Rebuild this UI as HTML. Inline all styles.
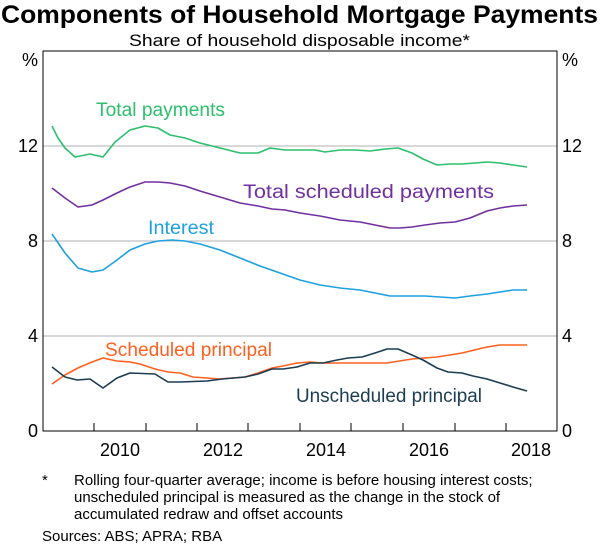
<!DOCTYPE html>
<html><head><meta charset="utf-8"><style>
body{margin:0;background:#fff;}
svg{display:block;font-family:"Liberation Sans",Arial,sans-serif;}
</style></head><body>
<svg width="600" height="546" viewBox="0 0 600 546" xmlns="http://www.w3.org/2000/svg">
<text x="1" y="23" font-size="25" font-weight="bold" fill="#000" textLength="597" lengthAdjust="spacingAndGlyphs">Components of Household Mortgage Payments</text>
<text x="129" y="46" font-size="17" fill="#000" textLength="341" lengthAdjust="spacingAndGlyphs">Share of household disposable income*</text>
<g stroke="#b0b0b0" stroke-width="1">
<line x1="43" y1="146" x2="557" y2="146"/><line x1="43" y1="241" x2="557" y2="241"/><line x1="43" y1="336" x2="557" y2="336"/>
</g>
<rect x="43" y="51" width="514" height="380" fill="none" stroke="#000" stroke-width="1"/>
<g stroke="#000" stroke-width="1">
<line x1="94" y1="431" x2="94" y2="423"/><line x1="146" y1="431" x2="146" y2="423"/><line x1="197" y1="431" x2="197" y2="423"/><line x1="248" y1="431" x2="248" y2="423"/><line x1="300" y1="431" x2="300" y2="423"/><line x1="351" y1="431" x2="351" y2="423"/><line x1="403" y1="431" x2="403" y2="423"/><line x1="455" y1="431" x2="455" y2="423"/><line x1="506" y1="431" x2="506" y2="423"/>
</g>
<g font-size="18" fill="#000" text-anchor="middle">
<text x="120" y="456">2010</text><text x="223" y="456">2012</text><text x="326" y="456">2014</text><text x="429" y="456">2016</text><text x="531" y="456">2018</text>
</g>
<g font-size="18" fill="#000" text-anchor="end">
<text x="38" y="66">%</text><text x="38" y="152">12</text><text x="38" y="247">8</text><text x="38" y="342">4</text><text x="38" y="437">0</text>
</g>
<g font-size="18" fill="#000" text-anchor="start">
<text x="562" y="66">%</text><text x="562" y="152">12</text><text x="562" y="247">8</text><text x="562" y="342">4</text><text x="562" y="437">0</text>
</g>
<g fill="none" stroke-width="1.6" stroke-linejoin="round">
<polyline stroke="#2cbf6c" points="52,126 58,138 65,148 75,157 90,154 103,157 115,142 130,130 145,126 158,128 170,135 185,138 200,143 220,148 240,153 258,153 270,148 285,150 300,150 315,150 325,152 340,150 355,150 370,151 385,149 398,148 412,153 423,159 437,165 450,164 462,164 475,163 487,162 500,163 513,165 527,167"/>
<polyline stroke="#7030a0" points="52,188 65,198 78,207 92,205 103,200 117,193 130,187 145,182 158,182 170,183 185,186 200,191 220,197 240,203 258,206 272,209 285,210 300,213 320,216 340,220 360,222 375,225 390,228 400,228 412,227 425,225 440,223 455,222 470,218 487,211 500,208 513,206 527,205"/>
<polyline stroke="#1ea0e2" points="52,234 65,253 78,268 92,272 103,270 117,260 130,250 145,244 158,241 172,240 185,241 200,244 220,250 240,258 260,266 280,273 300,280 320,285 340,288 360,290 375,293 390,296 400,296 412,296 425,296 440,297 455,298 470,296 487,294 500,292 513,290 527,290"/>
<polyline stroke="#ff6020" points="52,384 65,375 78,368 92,362 103,358 117,361 130,362 140,364 155,369 168,372 180,373 193,377 207,378 220,379 245,377 258,373 272,368 283,366 297,363 310,362 323,363 337,363 348,363 362,363 387,363 412,359 437,357 462,353 487,347 500,345 527,345"/>
<polyline stroke="#1b3d52" points="52,367 65,377 77,380 90,379 103,388 117,378 130,373 155,374 168,382 180,382 207,381 222,379 245,377 258,374 272,369 283,369 297,367 310,363 323,363 337,360 348,358 362,357 375,353 387,349 398,349 412,355 423,360 437,368 448,372 462,373 473,376 487,379 500,383 513,387 527,391"/>
</g>
<g font-size="19">
<text x="96" y="116" fill="#2cbf6c" textLength="129" lengthAdjust="spacingAndGlyphs">Total payments</text>
<text x="243" y="198" fill="#7030a0" textLength="251" lengthAdjust="spacingAndGlyphs">Total scheduled payments</text>
<text x="148" y="234" fill="#1ea0e2" textLength="66" lengthAdjust="spacingAndGlyphs">Interest</text>
<text x="105" y="356" fill="#ff6020" textLength="167" lengthAdjust="spacingAndGlyphs">Scheduled principal</text>
<text x="296" y="402" fill="#1b3d52" textLength="186" lengthAdjust="spacingAndGlyphs">Unscheduled principal</text>
</g>
<g font-size="15" fill="#000">
<text x="42" y="485">*</text>
<text x="74" y="485">Rolling four-quarter average; income is before housing interest costs;</text>
<text x="74" y="502">unscheduled principal is measured as the change in the stock of</text>
<text x="74" y="519">accumulated redraw and offset accounts</text>
<text x="42" y="541">Sources: ABS; APRA; RBA</text>
</g>
</svg>
</body></html>
